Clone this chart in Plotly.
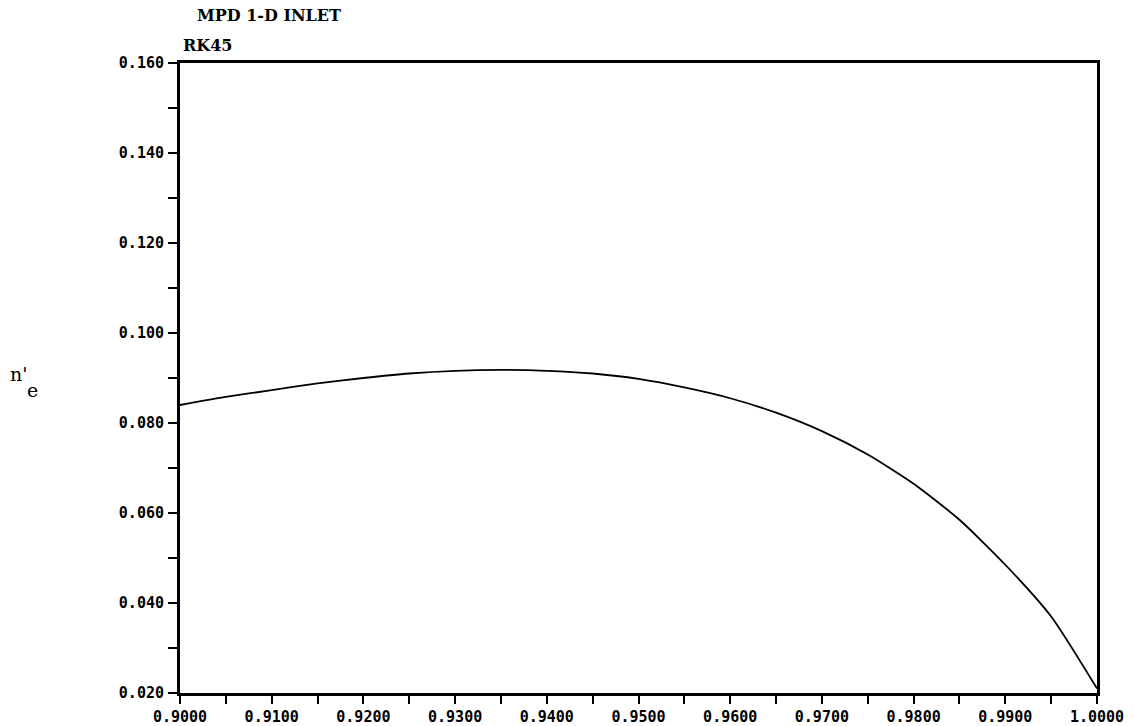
import plotly.graph_objects as go

# Data
x_vals = [0.900, 0.905, 0.910, 0.915, 0.920, 0.925, 0.930, 0.935, 0.940, 0.945,
          0.950, 0.955, 0.960, 0.965, 0.970, 0.975, 0.980, 0.985, 0.990, 0.995, 1.000]
ne_vals = [0.0840, 0.0858, 0.0873, 0.0888, 0.0900, 0.0910, 0.0916, 0.0918, 0.0916, 0.0910,
           0.0898, 0.0879, 0.0855, 0.0823, 0.0782, 0.0730, 0.0665, 0.0585, 0.0485, 0.0370, 0.0210]

x_ticks = [0.90, 0.91, 0.92, 0.93, 0.94, 0.95, 0.96, 0.97, 0.98, 0.99, 1.00]
y_ticks = [0.020, 0.040, 0.060, 0.080, 0.100, 0.120, 0.140, 0.160]

title_text = "MPD 1-D INLET"
subtitle_text = "RK45"

fig = go.Figure()
fig.add_trace(go.Scatter(x=x_vals, y=ne_vals, mode="lines",
                         line=dict(color="black", width=1.8, shape="spline", smoothing=0.6),
                         showlegend=False, hoverinfo="skip"))

tick_font = dict(family="DejaVu Sans Mono", size=15, color="black", weight="bold")

fig.update_layout(
    width=1134, height=726,
    margin=dict(l=180, r=37, t=63, b=33),
    paper_bgcolor="white", plot_bgcolor="white",
    xaxis=dict(range=[0.9, 1.0], tickvals=x_ticks,
               ticktext=[f"{v:.4f}" for v in x_ticks],
               showgrid=False, zeroline=False, automargin=False,
               showline=True, linecolor="black", linewidth=3, mirror=True,
               ticks="outside", ticklen=8, tickwidth=2, tickcolor="black",
               minor=dict(dtick=0.005, ticks="outside", ticklen=8, tickwidth=2, tickcolor="black", showgrid=False),
               tickfont=tick_font, ticklabelstandoff=0),
    yaxis=dict(range=[0.020, 0.160], tickvals=y_ticks,
               ticktext=[f"{v:.3f}" for v in y_ticks],
               showgrid=False, zeroline=False, automargin=False,
               showline=True, linecolor="black", linewidth=3, mirror=True,
               ticks="outside", ticklen=9, tickwidth=2, tickcolor="black",
               minor=dict(dtick=0.010, ticks="outside", ticklen=9, tickwidth=2, tickcolor="black", showgrid=False),
               tickfont=tick_font, ticklabelstandoff=1),
)

def px_x(px):
    return (px - 180) / 917.0

def px_y(py):
    return (693 - py) / 630.0

serif_bold = dict(family="DejaVu Serif", size=16, color="black")

fig.add_annotation(text="<b>" + title_text + "</b>", xref="paper", yref="paper",
                   x=px_x(195), y=px_y(15), xanchor="left", yanchor="middle",
                   showarrow=False, font=serif_bold)
fig.add_annotation(text="<b>" + subtitle_text + "</b>", xref="paper", yref="paper",
                   x=px_x(181), y=px_y(45), xanchor="left", yanchor="middle",
                   showarrow=False, font=serif_bold)

label_font = dict(family="DejaVu Serif", size=19, color="black")
fig.add_annotation(text="n'", xref="paper", yref="paper",
                   x=px_x(8), y=px_y(374), xanchor="left", yanchor="middle",
                   showarrow=False, font=label_font)
fig.add_annotation(text="e", xref="paper", yref="paper",
                   x=px_x(25), y=px_y(390), xanchor="left", yanchor="middle",
                   showarrow=False, font=label_font)

fig.write_html("out.html", config={"displayModeBar": False})

# remove default body margin so the figure sits at the page origin
with open("out.html", "r", encoding="utf-8") as f:
    html = f.read()
html = html.replace("<body>", '<body style="margin:0;padding:0;overflow:hidden">', 1)
with open("out.html", "w", encoding="utf-8") as f:
    f.write(html)
